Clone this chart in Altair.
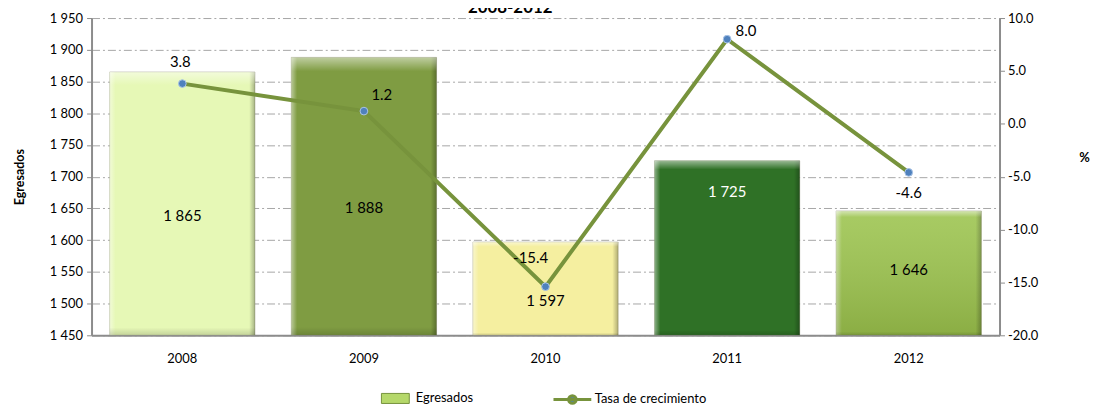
import altair as alt
import pandas as pd

years = ["2008", "2009", "2010", "2011", "2012"]
egresados = [1865, 1888, 1597, 1725, 1646]
tasa = [3.8, 1.2, -15.4, 8.0, -4.6]
bar_colors = ["#E6F8B6", "#7F9C42", "#F5EFA0", "#2F7126", "#9CC44E"]
title_text = ["2008-2012"]

df = pd.DataFrame({"year": years, "egresados": egresados, "tasa": tasa})

FONT = "Lato"
W, H = 913, 319
BASE = 1450

x = alt.X(
    "year:N",
    scale=alt.Scale(paddingInner=0.2, paddingOuter=0.1),
    axis=alt.Axis(title=None, labelAngle=0, ticks=False, domainColor="#8C8C8C",
                  domainWidth=2, labelPadding=23, labelFontSize=13, labelColor="black",
                  labelFont=FONT, labelBaseline="middle"),
)

left_axis = alt.Axis(
    values=list(range(1450, 1951, 50)),
    labelExpr="replace(format(datum.value, ','), ',', ' ')",
    grid=True, gridDash=[8, 3, 2, 3], gridColor="#A6A6A6", gridWidth=1,
    domainColor="#8C8C8C", domainWidth=2, tickColor="#8C8C8C", tickSize=5,
    labelFontSize=13, labelColor="black", labelFont=FONT, labelPadding=4,
    title="Egresados", titleFont=FONT, titleFontSize=12.5, titleFontWeight="bold",
    titleColor="black", titlePadding=23,
)
y_scale = alt.Scale(domain=[1450, 1950], nice=False, zero=False)

def yl(field):
    return alt.Y(field, scale=y_scale, axis=left_axis)

right_axis = alt.Axis(
    orient="right", values=[-20, -15, -10, -5, 0, 5, 10],
    labelExpr="replace(format(datum.value, '.1f'), '\u2212', '-')", grid=False,
    domainColor="#8C8C8C", domainWidth=2, tickColor="#8C8C8C", tickSize=5,
    labelFontSize=13, labelColor="black", labelFont=FONT, labelPadding=3,
    title="%", titleAngle=0, titleFont=FONT, titleFontSize=13, titleFontWeight="bold",
    titleColor="black", titleX=85, titleY=140, titleAlign="center", titleBaseline="middle",
)
yr_scale = alt.Scale(domain=[-20, 10], nice=False, zero=False)

def yr(field):
    return alt.Y(field, scale=yr_scale, axis=right_axis)

bar_base = alt.Chart(df).transform_calculate(
    blbl="replace(format(datum.egresados, ','), ',', ' ')",
    tlbl="replace(format(datum.tasa, '.1f'), '\u2212', '-')",
)

bars = bar_base.transform_calculate(sb="'Egresados'").mark_bar(
    stroke="#7a7a5a", strokeWidth=0.6, strokeOpacity=0.6, clip=True
).encode(
    x=x,
    y=yl("egresados:Q"),
    y2=alt.Y2Datum(BASE),
    fill=alt.Fill("year:N", scale=alt.Scale(domain=years, range=bar_colors), legend=None),
    opacity=alt.Opacity(
        "sb:N",
        scale=alt.Scale(domain=["Egresados"], range=[1]),
        legend=alt.Legend(
            orient="none", legendX=291, legendY=368, title=None, padding=0,
            symbolType="M-1,-0.36H1V0.36H-1Z", symbolSize=784,
            symbolFillColor="#B5D86A", symbolStrokeColor="#76923C", symbolStrokeWidth=1,
            symbolOpacity=1, labelFont=FONT, labelFontSize=13, labelColor="black",
            labelOffset=6,
        ),
    ),
)

bevel = bar_base.mark_bar(
    clip=True,
    fill=alt.Gradient(
        gradient="linear", x1=0, x2=1, y1=0, y2=0,
        stops=[
            alt.GradientStop(color="rgba(255,255,255,0.45)", offset=0),
            alt.GradientStop(color="rgba(255,255,255,0)", offset=0.04),
            alt.GradientStop(color="rgba(0,0,0,0)", offset=0.96),
            alt.GradientStop(color="rgba(0,0,0,0.28)", offset=1),
        ],
    ),
).encode(x=x, y=yl("egresados:Q"), y2=alt.Y2Datum(BASE))

top_bevel = bar_base.mark_bar(
    clip=True,
    fill=alt.Gradient(
        gradient="linear", x1=0, x2=0, y1=0, y2=1,
        stops=[
            alt.GradientStop(color="rgba(255,255,255,0.5)", offset=0),
            alt.GradientStop(color="rgba(255,255,255,0)", offset=0.05),
            alt.GradientStop(color="rgba(0,0,0,0)", offset=0.97),
            alt.GradientStop(color="rgba(0,0,0,0.15)", offset=1),
        ],
    ),
).encode(x=x, y=yl("egresados:Q"), y2=alt.Y2Datum(BASE))

shade_2012 = bar_base.transform_filter(alt.datum.year == "2012").mark_bar(
    clip=True,
    fill=alt.Gradient(
        gradient="linear", x1=0, x2=0, y1=0, y2=1,
        stops=[
            alt.GradientStop(color="rgba(255,255,255,0.12)", offset=0),
            alt.GradientStop(color="rgba(60,70,20,0.18)", offset=1),
        ],
    ),
).encode(x=x, y=yl("egresados:Q"), y2=alt.Y2Datum(BASE))

label_style = dict(fontSize=15, font=FONT)
mid = bar_base.transform_calculate(mid=f"({BASE} + datum.egresados) / 2")
bar_lbl_a = mid.transform_filter(
    alt.FieldOneOfPredicate(field="year", oneOf=["2008", "2009", "2010"])
).mark_text(dy=12, color="black", **label_style).encode(
    x=x, y=yl("mid:Q"), text="blbl:N",
)
bar_lbl_b = mid.transform_filter(alt.datum.year == "2012").mark_text(
    dy=-3, color="black", **label_style
).encode(x=x, y=yl("mid:Q"), text="blbl:N")
bar_lbl_c = bar_base.transform_filter(alt.datum.year == "2011").mark_text(
    dy=31, color="white", **label_style
).encode(x=x, y=yl("egresados:Q"), text="blbl:N")

title_mark = alt.Chart(pd.DataFrame({"t": title_text})).mark_text(
    font=FONT, fontSize=17, fontWeight="bold", color="black", baseline="alphabetic",
    align="center",
).encode(text="t:N", x=alt.value(421), y=alt.value(-5))

left = alt.layer(bars, bevel, top_bevel, shade_2012, bar_lbl_a, bar_lbl_b, bar_lbl_c)

line_color = "#77933C"
line = bar_base.transform_calculate(sl="'Tasa de crecimiento'").mark_line(
    strokeWidth=4
).encode(
    x=x,
    y=yr("tasa:Q"),
    color=alt.Color(
        "sl:N",
        scale=alt.Scale(domain=["Tasa de crecimiento"], range=[line_color]),
        legend=alt.Legend(
            orient="none", legendX=463, legendY=363, title=None, padding=0,
            symbolType="M-1,0H1M0.2,0A0.2,0.2,0,1,1,-0.2,0A0.2,0.2,0,1,1,0.2,0",
            symbolSize=1444, symbolStrokeWidth=3, symbolFillColor="#4F81BD",
            labelFont=FONT, labelFontSize=13, labelColor="black", labelOffset=2,
        ),
    ),
)
points = bar_base.mark_point(
    shape="circle", filled=True, size=60, fill="#4F81BD", stroke="#A9C4E6",
    strokeWidth=1, opacity=1
).encode(x=x, y=yr("tasa:Q"))

offsets = {"2008": (-2, -22), "2009": (18, -16), "2010": (-15, -29),
           "2011": (19, -8), "2012": (0, 21)}
line_labels = [
    bar_base.transform_filter(alt.datum.year == yv).mark_text(
        dx=dx, dy=dy, color="black", **label_style
    ).encode(x=x, y=yr("tasa:Q"), text="tlbl:N")
    for yv, (dx, dy) in offsets.items()
]

right = alt.layer(line, points, *line_labels)

chart = alt.layer(left, right, title_mark).resolve_scale(
    y="independent", color="independent", opacity="independent", fill="independent"
).properties(
    width=W, height=H,
    padding={"left": 84, "top": 9, "right": 95, "bottom": 72},
    autosize=alt.AutoSizeParams(type="none"),
).configure_view(stroke=None).configure_axis(labelFont=FONT)

chart.save("out.html", embed_options={"renderer": "svg", "actions": False})
